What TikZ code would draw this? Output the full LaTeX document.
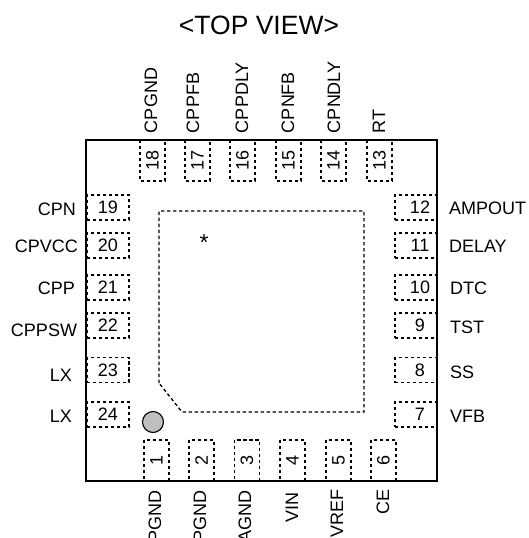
\documentclass[tikz,border=0pt]{standalone}
\usepackage{fontspec}
\setmainfont{Liberation Sans}
\tikzset{
	pad/.style={draw,line width=1.3pt,dash pattern=on 3.4pt off 2.6pt,inner sep=0,outer sep=0,font=\fontsize{18}{20}\selectfont},
	hpad/.style={pad,minimum width=42,minimum height=25},
	vpad/.style={pad,rotate=90,minimum width=41,minimum height=25},
	pinl/.style={inner sep=0,outer sep=0,font=\fontsize{18}{20}\selectfont},
}
\begin{document}
\begin{tikzpicture}[x=1pt,y=-1pt]
	\useasboundingbox (0,0) rectangle (529,538);
	\node[pinl,font=\fontsize{26.5}{30}\selectfont] (title) at (259,25) {<TOP VIEW>};
	\node[vpad] (p18) at (152.5,160.5) {18};
	\node[vpad] (p17) at (197.5,160.5) {17};
	\node[vpad] (p16) at (242.5,160.5) {16};
	\node[vpad] (p15) at (288.5,160.5) {15};
	\node[vpad] (p14) at (333.5,160.5) {14};
	\node[vpad] (p13) at (379.5,160.5) {13};
	\node[hpad] (p19) at (108,207.5) {19};
	\node[hpad] (p20) at (108,245.5) {20};
	\node[hpad] (p21) at (108,287.5) {21};
	\node[hpad] (p22) at (108,325.5) {22};
	\node[hpad] (p23) at (108,370) {23};
	\node[hpad] (p24) at (108,414.5) {24};
	\node[hpad] (p12) at (416,207.5) {\hspace*{8pt}12};
	\node[hpad] (p11) at (416,245.5) {\hspace*{8pt}11};
	\node[hpad] (p10) at (416,287.5) {\hspace*{8pt}10};
	\node[hpad] (p9) at (416,325.5) {\hspace*{8pt}9};
	\node[hpad] (p8) at (416,370) {\hspace*{8pt}8};
	\node[hpad] (p7) at (416,414.5) {\hspace*{8pt}7};
	\node[vpad] (p1) at (156.5,460.5) {1};
	\node[vpad] (p2) at (201.5,460.5) {2};
	\node[vpad] (p3) at (247,460.5) {3};
	\node[vpad] (p4) at (292.5,460.5) {4};
	\node[vpad] (p5) at (338.5,460.5) {5};
	\node[vpad] (p6) at (383.5,460.5) {6};
	\node[draw,line width=1.4pt,inner sep=0,outer sep=0,minimum width=351,minimum height=341] (pkg) at (261.5,310.5) {};
	\draw[line width=1.3pt,dash pattern=on 3.4pt off 2.6pt] (159,383) -- (159,211) -- (364,211) -- (364,412) -- (182,412) -- cycle;
	\node[pinl,font=\fontsize{23}{25}\selectfont] (star) at (204,242.5) {*};
	\node[draw,circle,fill=black!25,line width=1.1pt,inner sep=0,outer sep=0,minimum size=21] (mark) at (153,422) {};
	\node[pinl,rotate=90,anchor=west] (cpgnd) at (151,133) {CPGND};
	\node[pinl,rotate=90,anchor=west] (cppfb) at (193,133) {CPPFB};
	\node[pinl,rotate=90,anchor=west] (cppdly) at (242,133) {CPPDLY};
	\node[pinl,rotate=90,anchor=west] (cpnfb) at (288,133) {CPNFB};
	\node[pinl,rotate=90,anchor=west] (cpndly) at (334,133) {CPNDLY};
	\node[pinl,rotate=90,anchor=west] (rt) at (379,133) {RT};
	\node[pinl,anchor=east] (cpn) at (76,209) {CPN};
	\node[pinl,anchor=east] (cpvcc) at (78,246) {CPVCC};
	\node[pinl,anchor=east] (cpp) at (75,288) {CPP};
	\node[pinl,anchor=east] (cppsw) at (77,330) {CPPSW};
	\node[pinl,anchor=east] (lxa) at (72,375) {LX};
	\node[pinl,anchor=east] (lxb) at (72,416) {LX};
	\node[pinl,anchor=west] (ampout) at (449,208) {AMPOUT};
	\node[pinl,anchor=west] (delay) at (449,246) {DELAY};
	\node[pinl,anchor=west] (dtc) at (450,288) {DTC};
	\node[pinl,anchor=west] (tst) at (450,327) {TST};
	\node[pinl,anchor=west] (ss) at (450,372) {SS};
	\node[pinl,anchor=west] (vfb) at (450,416) {VFB};
	\node[pinl,rotate=90,anchor=east] (pgnda) at (155,490) {PGND};
	\node[pinl,rotate=90,anchor=east] (pgndb) at (200,490) {PGND};
	\node[pinl,rotate=90,anchor=east] (agnd) at (245,490) {AGND};
	\node[pinl,rotate=90,anchor=east] (vin) at (292,492) {VIN};
	\node[pinl,rotate=90,anchor=east] (vref) at (337,489) {VREF};
	\node[pinl,rotate=90,anchor=east] (ce) at (383,489) {CE};
\end{tikzpicture}
\end{document}
